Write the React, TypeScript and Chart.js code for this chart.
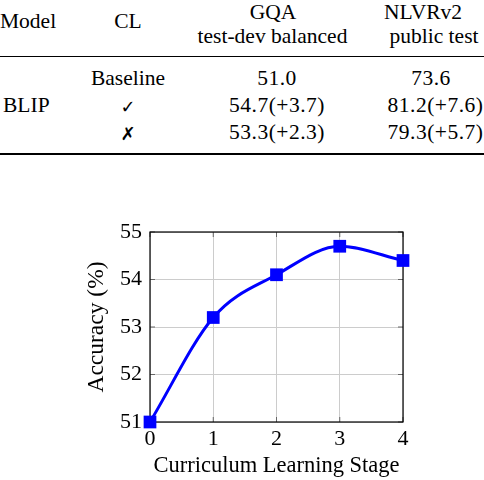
import React, { useEffect, useRef } from "react";
import { Chart, registerables } from "chart.js";

Chart.register(...registerables);

// ---- data ----
const stages = [0, 1, 2, 3, 4];
const accuracy = [51.0, 53.2, 54.1, 54.7, 54.4];
const yMin = 51;
const yMax = 55;

const headerTop = ["Model", "CL", "GQA", "NLVRv2"];
const headerBottom = ["", "", "test-dev balanced", "public test"];
const modelName = "BLIP";
const clSettings = ["Baseline", "\u2713", "\u2717"];
const gqaScores = ["51.0", "54.7(+3.7)", "53.3(+2.3)"];
const nlvrScores = ["73.6", "81.2(+7.6)", "79.3(+5.7)"];

const SERIF = "'Liberation Serif', 'Times New Roman', serif";

type TProps = {
  x: number;
  base: number;
  text: string;
  size?: number;
  align?: "left" | "center";
  font?: string;
  weight?: string;
  spacing?: number;
};

function T({ x, base, text, size = 21.5, align = "center", font = SERIF, weight = "normal", spacing = 0 }: TProps) {
  const top = base - 0.837 * size;
  return (
    <div
      style={{
        position: "absolute",
        left: x,
        top,
        fontFamily: font,
        fontSize: size,
        fontWeight: weight as any,
        letterSpacing: spacing,
        lineHeight: 1,
        whiteSpace: "nowrap",
        color: "#000",
        transform: align === "center" ? "translateX(-50%)" : undefined,
      }}
    >
      {text}
    </div>
  );
}

const framePlugin = {
  id: "frameTicks",
  beforeDatasetsDraw(chart: any) {
    const { ctx, chartArea, scales } = chart;
    const { left, right, top, bottom } = chartArea;
    const tl = 5;
    ctx.save();
    ctx.strokeStyle = "#666";
    ctx.lineWidth = 1;
    ctx.beginPath();
    scales.y.ticks.forEach((t: any) => {
      const y = scales.y.getPixelForValue(t.value);
      ctx.moveTo(left, y);
      ctx.lineTo(left + tl, y);
      ctx.moveTo(right - tl, y);
      ctx.lineTo(right, y);
    });
    scales.x.ticks.forEach((t: any) => {
      const x = scales.x.getPixelForValue(t.value);
      ctx.moveTo(x, bottom);
      ctx.lineTo(x, bottom - tl);
      ctx.moveTo(x, top);
      ctx.lineTo(x, top + tl);
    });
    ctx.stroke();
    ctx.strokeStyle = "#000";
    ctx.lineWidth = 1.2;
    ctx.strokeRect(left, top, right - left, bottom - top);
    ctx.restore();
  },
};

function AccuracyChart() {
  const ref = useRef<HTMLCanvasElement | null>(null);
  useEffect(() => {
    if (!ref.current) return;
    const tickFont = { family: SERIF, size: 22 };
    const chart = new Chart(ref.current, {
      type: "line",
      data: {
        datasets: [
          {
            data: stages.map((s, i) => ({ x: s, y: accuracy[i] })),
            borderColor: "#0000ff",
            backgroundColor: "#0000ff",
            borderWidth: 3,
            cubicInterpolationMode: "monotone",
            pointStyle: "rect",
            pointRadius: 9,
            pointHoverRadius: 9,
            pointBorderWidth: 0,
            pointBackgroundColor: "#0000ff",
            clip: false as any,
          },
        ],
      },
      options: {
        animation: false,
        responsive: false,
        events: [],
        layout: { padding: { left: 80, right: 81, top: 52, bottom: 0 } },
        plugins: { legend: { display: false }, tooltip: { enabled: false } },
        scales: {
          x: {
            type: "linear",
            min: 0,
            max: 4,
            ticks: { stepSize: 1, font: tickFont, color: "#000", padding: 4 },
            grid: { color: "#cccccc", drawTicks: false },
            border: { display: false },
            title: {
              display: true,
              text: "Curriculum Learning Stage",
              font: { family: SERIF, size: 22.5 },
              color: "#000",
              padding: { top: 0, bottom: 0 },
            },
            afterFit: (s: any) => {
              s.height = 58;
            },
          },
          y: {
            type: "linear",
            min: yMin,
            max: yMax,
            ticks: { stepSize: 1, font: tickFont, color: "#000", padding: 8 },
            grid: { color: "#cccccc", drawTicks: false },
            border: { display: false },
            title: {
              display: true,
              text: "Accuracy (%)",
              font: { family: SERIF, size: 23.5 },
              color: "#000",
              padding: { top: 3, bottom: 3 },
            },
            afterFit: (s: any) => {
              s.width = 70;
            },
          },
        },
      },
      plugins: [framePlugin],
    });
    return () => chart.destroy();
  }, []);
  return (
    <canvas
      ref={ref}
      width={484}
      height={300}
      style={{ position: "absolute", left: 0, top: 180, width: 484, height: 300 }}
    />
  );
}

export default function App() {
  const colX = [0, 128, 277, 431];
  const headerX = [0, 128, 273, 423];
  const subX = [0, 128, 272.5, 434];
  const rowBase = [86, 113, 140];
  const nlvrX = [431, 435.5, 435.5];
  return (
    <div
      style={{
        position: "fixed",
        left: 0,
        top: 0,
        width: 484,
        height: 480,
        background: "#fff",
        overflow: "hidden",
      }}
    >
      <T x={headerX[0]} base={29} text={headerTop[0]} align="left" />
      <T x={headerX[1]} base={29} text={headerTop[1]} />
      <T x={headerX[2]} base={20} text={headerTop[2]} />
      <T x={headerX[3]} base={20} text={headerTop[3]} />
      <T x={subX[2]} base={44} text={headerBottom[2]} />
      <T x={subX[3]} base={44} text={headerBottom[3]} />
      <div style={{ position: "absolute", left: 0, top: 56, width: 484, height: 1, background: "#000" }} />
      <T x={3} base={113} text={modelName} align="left" />
      <T x={colX[1]} base={rowBase[0]} text={clSettings[0]} />
      <T x={colX[1]} base={rowBase[1]} text={clSettings[1]} font="'DejaVu Sans', sans-serif" size={18} />
      <T
        x={colX[1]}
        base={rowBase[2]}
        text={clSettings[2]}
        font="'DejaVu Sans', sans-serif"
        size={18}
        weight="bold"
      />
      {gqaScores.map((g, i) => (
        <T key={"g" + i} x={colX[2]} base={rowBase[i]} text={g} spacing={0.5} />
      ))}
      {nlvrScores.map((n, i) => (
        <T key={"n" + i} x={nlvrX[i]} base={rowBase[i]} text={n} spacing={0.5} />
      ))}
      <div style={{ position: "absolute", left: 0, top: 153, width: 484, height: 2, background: "#000" }} />
      <AccuracyChart />
    </div>
  );
}
